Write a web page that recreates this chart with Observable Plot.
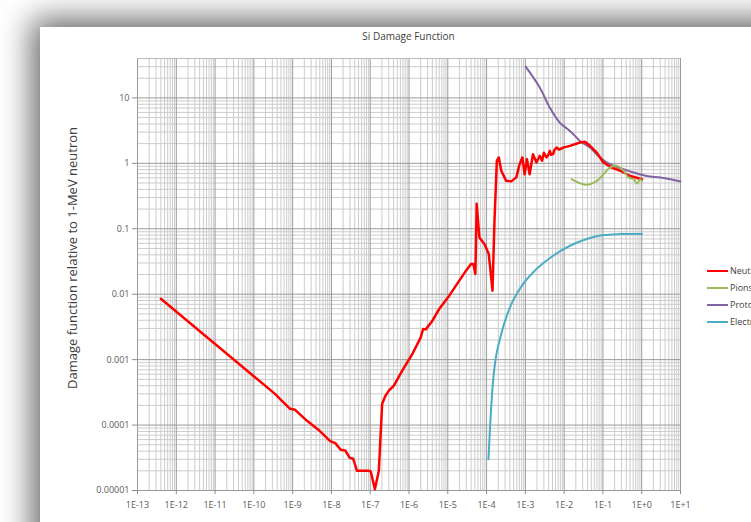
<!DOCTYPE html>
<html>
<head>
<meta charset="utf-8">
<script src="https://cdn.jsdelivr.net/npm/d3@7"></script>
<script src="https://cdn.jsdelivr.net/npm/@observablehq/plot@0.6"></script>
<style>
  html, body { margin: 0; padding: 0; width: 751px; height: 522px; overflow: hidden; background: #ffffff; font-family: "Open Sans", sans-serif; }
  #card { position: absolute; left: 40px; top: 27px; width: 760px; height: 540px; background: #fff;
          box-shadow: 0 0 30px 8px rgba(0,0,0,0.6); }
  #title { position: absolute; left: 137px; width: 543px; top: 29px; text-align: center; font-size: 10px; color: #404040; }
  #ylabel { position: absolute; left: 72px; top: 258px; transform: translate(-50%, -50%) rotate(-90deg);
            white-space: nowrap; font-size: 13px; color: #404040; }
  #chart { position: absolute; left: 40px; top: 27px; }
  #legend { position: absolute; left: 707px; top: 262px; font-size: 9px; color: #404040; }
  .item { height: 17px; display: flex; align-items: center; white-space: nowrap; }
  .sw { width: 21px; height: 2px; margin-right: 2px; }
</style>
</head>
<body>
<div id="card"></div>
<div id="chart"></div>
<div id="title">Si Damage Function</div>
<div id="ylabel">Damage function relative to 1-MeV neutron</div>
<div id="legend"></div>
<script>
// ---- data (energy, damage relative to 1-MeV neutron) ----
const xTicks = [1e-13,1e-12,1e-11,1e-10,1e-9,1e-8,1e-7,1e-6,1e-5,1e-4,1e-3,1e-2,1e-1,1e0,1e1];
const xTickLabels = ["1E-13","1E-12","1E-11","1E-10","1E-9","1E-8","1E-7","1E-6","1E-5","1E-4","1E-3","1E-2","1E-1","1E+0","1E+1"];
const yTicks = [1e-5,1e-4,1e-3,1e-2,1e-1,1,10];
const yTickLabels = ["0.00001","0.0001","0.001","0.01","0.1","1","10"];

const neutrons = [
  [4.0e-13,0.0085],[3.5e-10,3.0e-4],[6.35e-10,2.11e-4],[8.6e-10,1.77e-4],[1.16e-9,1.71e-4],
  [2.31e-9,1.17e-4],[4.6e-9,8.5e-5],[9.3e-9,5.7e-5],[1.26e-8,5.3e-5],[1.73e-8,4.2e-5],
  [2.26e-8,4.1e-5],[2.96e-8,3.15e-5],[3.64e-8,3.05e-5],[4.57e-8,2.0e-5],[9.2e-8,2.0e-5],
  [1.03e-7,1.95e-5],[1.32e-7,1.05e-5],[1.67e-7,2.0e-5],[2.03e-7,2.11e-4],[2.49e-7,2.82e-4],
  [3.03e-7,3.36e-4],[4.08e-7,4.0e-4],[6.7e-7,6.8e-4],[1.22e-6,1.22e-3],[2.01e-6,2.19e-3],
  [2.31e-6,2.94e-3],[2.71e-6,2.9e-3],[4.02e-6,3.94e-3],[6.0e-6,5.94e-3],[1.09e-5,9.5e-3],
  [1.98e-5,0.0161],[2.95e-5,0.0229],[3.98e-5,0.0289],[4.57e-5,0.029],[5.14e-5,0.0203],
  [5.56e-5,0.241],[6.53e-5,0.0737],[8.8e-5,0.0584],[1.14e-4,0.041],[1.42e-4,0.0113],
  [1.6e-4,0.132],[1.84e-4,1.09],[2.07e-4,1.23],[2.39e-4,0.77],[3.21e-4,0.54],
  [4.34e-4,0.53],[5.85e-4,0.61],[7.1e-4,0.97],[8.36e-4,1.23],[9.6e-4,0.68],
  [1.1e-3,1.16],[1.29e-3,0.68],[1.57e-3,1.38],[1.93e-3,1.03],[2.35e-3,1.30],
  [2.7e-3,1.1],[3.0e-3,1.45],[3.5e-3,1.23],[3.8e-3,1.3],[4.27e-3,1.55],[4.6e-3,1.35],
  [5.2e-3,1.38],[5.6e-3,1.6],[6.37e-3,1.74],[7.5e-3,1.62],[9.4e-3,1.74],[0.0141,1.85],
  [0.0256,2.08],[0.0344,2.13],[0.0464,1.85],[0.0694,1.46],[0.103,1.03],[0.17,0.86],
  [0.279,0.77],[0.506,0.64],[1.02,0.57]
];
const pions = [
  [0.0156,0.57],[0.0382,0.47],[0.0694,0.54],[0.153,0.86],[0.229,0.92],[0.34,0.77],
  [0.457,0.61],[0.617,0.57],[0.755,0.49],[0.918,0.57],[1.02,0.54]
];
const protons = [
  [1.02e-3,30],[2.35e-3,14.4],[4.27e-3,7.1],[7.7e-3,4.2],[0.0141,3.13],[0.0256,2.2],
  [0.0464,1.74],[0.0843,1.23],[0.153,0.97],[0.34,0.815],[0.617,0.724],[1.37,0.64],
  [3.03,0.607],[5.5,0.57],[10,0.527]
];
const electrons = [
  [1.12e-4,3.0e-5],[1.45e-4,4.26e-4],[1.77e-4,1.15e-3],[2.39e-4,2.47e-3],[3.21e-4,4.43e-3],
  [4.78e-4,7.96e-3],[8.7e-4,0.0143],[1.93e-3,0.0243],[5.2e-3,0.0387],[0.0141,0.055],
  [0.0382,0.0697],[0.103,0.080],[0.279,0.083],[1.02,0.083]
];
const seriesNames = ["Neutrons","Pions","Protons","Electrons"];
const seriesColors = ["#ff0000","#9bbb59","#8064a2","#4bacc6"];

// minor gridlines (2..9 in each decade)
const minorX = [];
for (let e = -13; e < 1; e++) for (let m = 2; m <= 9; m++) minorX.push(m * Math.pow(10, e));
const minorY = [];
for (let e = -5; e <= 1; e++) for (let m = 2; m <= 9; m++) { const v = m * Math.pow(10, e); if (v <= 40) minorY.push(v); }

const P = d => ({x: d[0], y: d[1]});
const plot = Plot.plot({
  width: 711, height: 495,
  marginLeft: 97, marginRight: 71, marginTop: 31, marginBottom: 32,
  style: {background: "white", fontFamily: "Open Sans", fontSize: "9px", color: "#595959", overflow: "visible"},
  x: {type: "log", domain: [1e-13, 10]},
  y: {type: "log", domain: [1e-5, 40]},
  marks: [
    Plot.ruleX(minorX, {stroke: "#cccccc", strokeWidth: 1}),
    Plot.ruleY(minorY, {stroke: "#cccccc", strokeWidth: 1}),
    Plot.ruleX(xTicks, {stroke: "#9a9a9a", strokeWidth: 1}),
    Plot.ruleY(yTicks, {stroke: "#9a9a9a", strokeWidth: 1}),
    Plot.ruleY([40], {stroke: "#bbbbbb"}),
    Plot.axisX({ticks: xTicks, tickFormat: d => xTickLabels[xTicks.indexOf(d)], tickSize: 4, tickPadding: 7, label: null, stroke: "#8c8c8c"}),
    Plot.axisY({ticks: yTicks, tickFormat: d => yTickLabels[yTicks.indexOf(d)], tickSize: 5, tickPadding: 3, label: null, stroke: "#8c8c8c"}),
    Plot.line(electrons.map(P), {x: "x", y: "y", stroke: seriesColors[3], strokeWidth: 2, curve: "catmull-rom"}),
    Plot.line(protons.map(P), {x: "x", y: "y", stroke: seriesColors[2], strokeWidth: 2, curve: "catmull-rom"}),
    Plot.line(neutrons.map(P), {x: "x", y: "y", stroke: seriesColors[0], strokeWidth: 2.5, strokeLinejoin: "round"}),
    Plot.line(pions.map(P), {x: "x", y: "y", stroke: seriesColors[1], strokeWidth: 2, curve: "catmull-rom"})
  ]
});
document.getElementById("chart").appendChild(plot);

const leg = document.getElementById("legend");
seriesNames.forEach((n, i) => {
  const it = document.createElement("div");
  it.className = "item";
  it.innerHTML = `<span class="sw" style="background:${seriesColors[i]}"></span><span>${n}</span>`;
  leg.appendChild(it);
});
</script>
</body>
</html>
